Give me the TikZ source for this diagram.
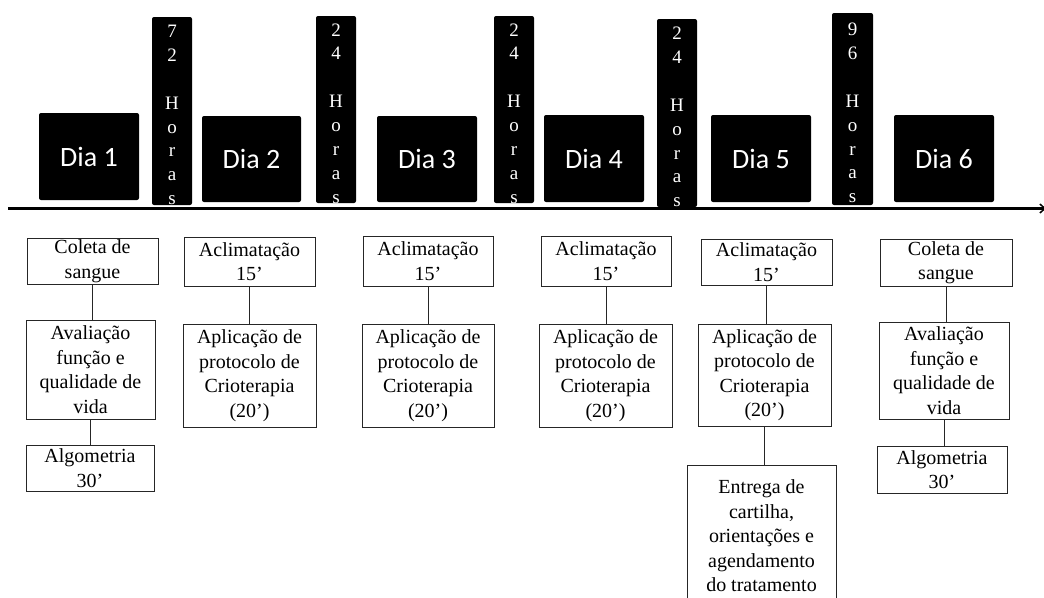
\documentclass[tikz,border=0pt]{standalone}
\usepackage{fontspec}
\setmainfont{Liberation Serif}
\newfontfamily\diafont{Carlito}
\usetikzlibrary{arrows.meta}
\begin{document}
\begin{tikzpicture}[x=1pt,y=-1pt,
  daybox/.style={fill=black, rounded corners=2pt, text=white,
    font=\diafont\fontsize{28}{34}\selectfont, inner sep=0pt},
  gapbar/.style={fill=black, rounded corners=2pt, inner sep=0pt},
  gaptext/.style={text=white, align=center, inner sep=0pt,
    font=\fontsize{19}{23.9}\selectfont},
  stepbox/.style={draw=black!85, line width=0.8pt, align=center, inner sep=0pt,
    font=\fontsize{20}{24.5}\selectfont},
  link/.style={draw=black!85, line width=1pt}]

\useasboundingbox (0,0) rectangle (1044,597);
\clip (0,0) rectangle (1044,597);
\fill[white] (0,0) rectangle (1044,597);

% days on the time line
\node[daybox, minimum width=100pt, minimum height=87pt] (d1) at (89,156.5)  {Dia 1};
\node[daybox, minimum width=99pt,  minimum height=86pt] (d2) at (251.5,159) {Dia 2};
\node[daybox, minimum width=100pt, minimum height=86pt] (d3) at (427,159)   {Dia 3};
\node[daybox, minimum width=100pt, minimum height=87pt] (d4) at (594,158.5) {Dia 4};
\node[daybox, minimum width=100pt, minimum height=87pt] (d5) at (761,158.5) {Dia 5};
\node[daybox, minimum width=100pt, minimum height=87pt] (d6) at (944,158.5) {Dia 6};

% intervals between days
\node[gapbar, minimum width=40pt, minimum height=188pt] (h1) at (172,111) {};
\node[gapbar, minimum width=40pt, minimum height=187pt] (h2) at (336,109.5) {};
\node[gapbar, minimum width=40pt, minimum height=187pt] (h3) at (514,109.5) {};
\node[gapbar, minimum width=40pt, minimum height=188pt] (h4) at (677,113) {};
\node[gapbar, minimum width=41pt, minimum height=192pt] (h5) at (852.5,109) {};
\node[gaptext] (t1) at ([yshift=-4pt]h1.center) {7\\2\\ \\H\\o\\r\\a\\s};
\node[gaptext] (t2) at ([yshift=-4pt]h2.center) {2\\4\\ \\H\\o\\r\\a\\s};
\node[gaptext] (t3) at ([yshift=-4pt]h3.center) {2\\4\\ \\H\\o\\r\\a\\s};
\node[gaptext] (t4) at ([yshift=-4pt]h4.center) {2\\4\\ \\H\\o\\r\\a\\s};
\node[gaptext] (t5) at ([yshift=-4pt]h5.center) {9\\6\\ \\H\\o\\r\\a\\s};

% time axis
\coordinate (ax0) at (8,208.5);
\coordinate (ax1) at (1046,208.5);
\draw[line width=3pt, -{Straight Barb[length=5pt,width=9pt,line width=1.5pt]}] (ax0) -- (ax1);

% day 1
\node[stepbox, minimum width=131pt, minimum height=46pt] (c1a) at (92.5,261) {Coleta de\\sangue};
\node[stepbox, minimum width=129pt, minimum height=99pt] (c1b) at (90.5,369.5) {Avaliação\\função e\\qualidade de\\vida};
\node[stepbox, minimum width=128pt, minimum height=46pt] (c1c) at (90,468) {Algometria\\30’};
% day 2
\node[stepbox, minimum width=131pt, minimum height=49pt] (c2a) at (249.5,261.5) {Aclimatação\\15’};
\node[stepbox, minimum width=133pt, minimum height=103pt] (c2b) at (249.5,375.5) {Aplicação de\\protocolo de\\Crioterapia\\(20’)};
% day 3
\node[stepbox, minimum width=130pt, minimum height=50pt] (c3a) at (428,261) {Aclimatação\\15’};
\node[stepbox, minimum width=132pt, minimum height=103pt] (c3b) at (428,375.5) {Aplicação de\\protocolo de\\Crioterapia\\(20’)};
% day 4
\node[stepbox, minimum width=130pt, minimum height=50pt] (c4a) at (606,261) {Aclimatação\\15’};
\node[stepbox, minimum width=133pt, minimum height=103pt] (c4b) at (605.5,375.5) {Aplicação de\\protocolo de\\Crioterapia\\(20’)};
% day 5
\node[stepbox, minimum width=131pt, minimum height=46pt] (c5a) at (766.5,262) {Aclimatação\\15’};
\node[stepbox, minimum width=133pt, minimum height=102pt] (c5b) at (764.5,375) {Aplicação de\\protocolo de\\Crioterapia\\(20’)};
\node[stepbox, minimum width=149pt, minimum height=142pt] (c5c) at (761.5,536) {Entrega de\\cartilha,\\orientações e\\agendamento\\do tratamento};
% day 6
\node[stepbox, minimum width=132pt, minimum height=47pt] (c6a) at (946,262.5) {Coleta de\\sangue};
\node[stepbox, minimum width=130pt, minimum height=97pt] (c6b) at (944,370.5) {Avaliação\\função e\\qualidade de\\vida};
\node[stepbox, minimum width=130pt, minimum height=47pt] (c6c) at (942,469.5) {Algometria\\30’};

% connectors
\draw[link] (c1a.south) -- (c1a.south |- c1b.north);
\draw[link] (c1b.south) -- (c1b.south |- c1c.north);
\draw[link] (c2a.south) -- (c2a.south |- c2b.north);
\draw[link] (c3a.south) -- (c3a.south |- c3b.north);
\draw[link] (c4a.south) -- (c4a.south |- c4b.north);
\draw[link] (c5a.south) -- (c5a.south |- c5b.north);
\draw[link] (c5b.south) -- (c5b.south |- c5c.north);
\draw[link] (c6a.south) -- (c6a.south |- c6b.north);
\draw[link] (c6b.south) -- (c6b.south |- c6c.north);
\end{tikzpicture}
\end{document}
